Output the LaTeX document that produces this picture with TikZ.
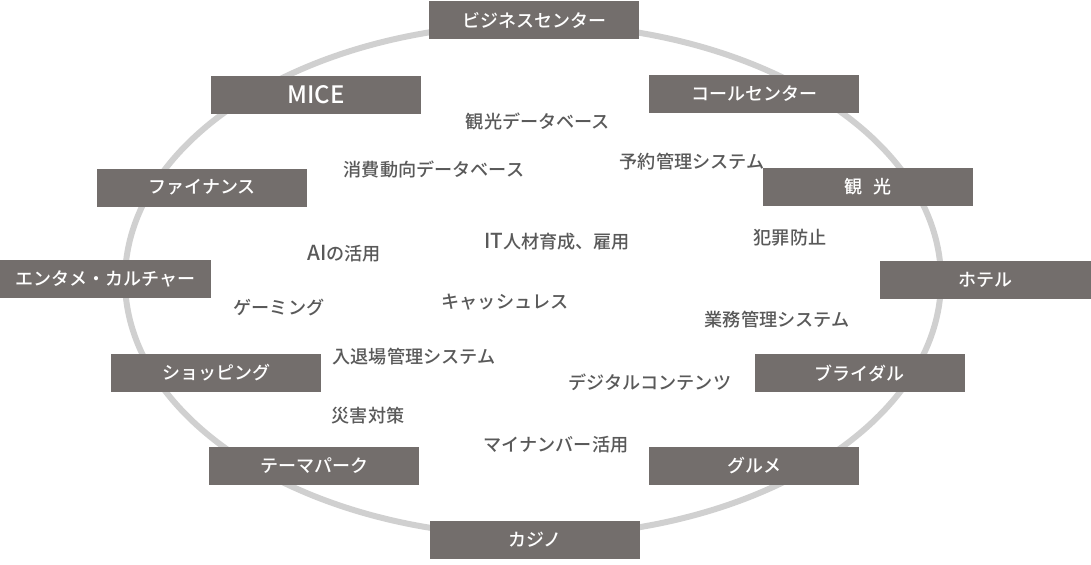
\documentclass[tikz,border=0pt]{standalone}
\usepackage{fontspec}
\setmainfont{Noto Sans CJK JP Medium}
\definecolor{boxgray}{HTML}{736E6C}
\definecolor{ringgray}{HTML}{D0D0D0}
\definecolor{textgray}{HTML}{595959}
\begin{document}
\begin{tikzpicture}[x=0.75pt,y=-0.75pt,
  catbox/.style={fill=boxgray,text=white,minimum width=157.5pt,minimum height=28.5pt,inner sep=0pt,font=\fontsize{13.5}{16}\selectfont},
  topic/.style={text=textgray,inner sep=1pt,font=\fontsize{13.6}{16}\selectfont}]
\useasboundingbox (0,0) rectangle (1091,564);
% ring
\draw[ringgray,line width=4.5pt] (533,280) ellipse [x radius=408,y radius=256];
% categories on the ring
\node[catbox] (biz) at (534,20) {ビジネスセンター};
\node[catbox,font=\fontsize{18}{20}\selectfont] (mice) at (316,94.5) {MICE};
\node[catbox] (call) at (754,94) {コールセンター};
\node[catbox] (fin) at (202,187.5) {ファイナンス};
\node[catbox] (kanko) at (868,187) {観\hspace{0.6em}光};
\node[catbox,minimum width=158.25pt] (enta) at (105.5,279) {エンタメ・カルチャー};
\node[catbox,minimum width=158.25pt] (hotel) at (985.5,280) {ホテル};
\node[catbox] (shop) at (216,373) {ショッピング};
\node[catbox] (bridal) at (859.5,373) {ブライダル};
\node[catbox] (theme) at (314,466) {テーマパーク};
\node[catbox] (gourmet) at (754,466) {グルメ};
\node[catbox] (casino) at (535,540) {カジノ};
% topics inside
\node[topic] (kdb) at (538,121) {観光データベース};
\node[topic] (sdb) at (434,170) {消費動向データベース};
\node[topic] (yoyaku) at (692,162) {予約管理システム};
\node[topic] (hanzai) at (790,238) {犯罪防止};
\node[topic] (it) at (557,242) {{\fontsize{15.5}{16}\selectfont IT}人材育成、雇用};
\node[topic] (ai) at (344,254) {{\fontsize{15.5}{16}\selectfont AI}の活用};
\node[topic] (gaming) at (279,307) {ゲーミング};
\node[topic] (cashless) at (505,302) {キャッシュレス};
\node[topic] (gyomu) at (777,320) {業務管理システム};
\node[topic] (nyutai) at (414,357) {入退場管理システム};
\node[topic] (digital) at (650,382) {デジタルコンテンツ};
\node[topic] (saigai) at (368,416) {災害対策};
\node[topic] (mynumber) at (556,445) {マイナンバー活用};
\end{tikzpicture}
\end{document}
